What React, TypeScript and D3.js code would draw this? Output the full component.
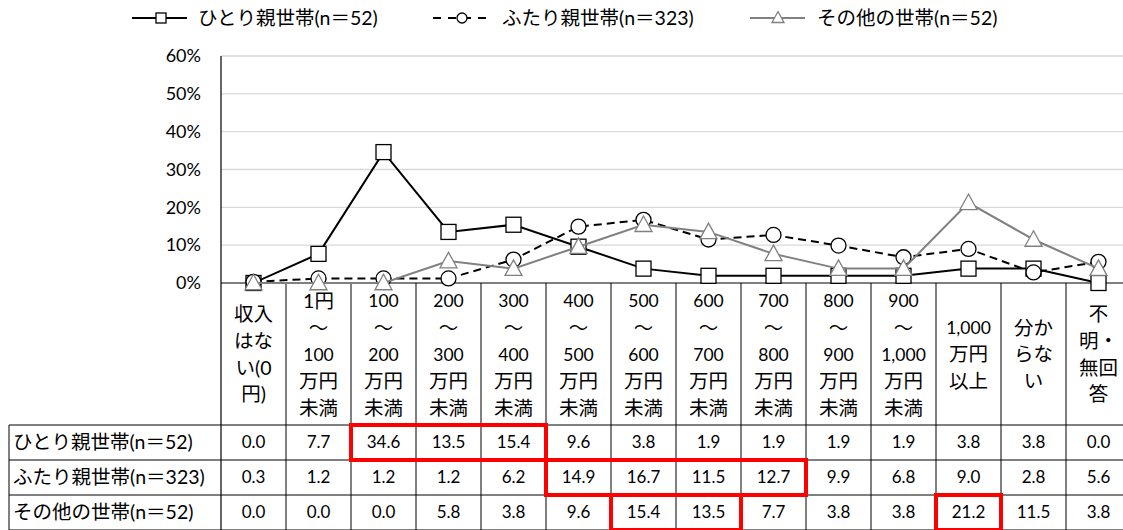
import { useMemo } from "react";
import * as d3 from "d3";

const categories: string[][] = [
  ["収入", "はな", "い(0", "円)"],
  ["1円", "～", "100", "万円", "未満"],
  ["100", "～", "200", "万円", "未満"],
  ["200", "～", "300", "万円", "未満"],
  ["300", "～", "400", "万円", "未満"],
  ["400", "～", "500", "万円", "未満"],
  ["500", "～", "600", "万円", "未満"],
  ["600", "～", "700", "万円", "未満"],
  ["700", "～", "800", "万円", "未満"],
  ["800", "～", "900", "万円", "未満"],
  ["900", "～", "1,000", "万円", "未満"],
  ["1,000", "万円", "以上"],
  ["分か", "らな", "い"],
  ["不", "明・", "無回", "答"],
];

const seriesNames = ["ひとり親世帯(n＝52)", "ふたり親世帯(n＝323)", "その他の世帯(n＝52)"];

const singleParent = [0.0, 7.7, 34.6, 13.5, 15.4, 9.6, 3.8, 1.9, 1.9, 1.9, 1.9, 3.8, 3.8, 0.0];
const twoParent = [0.3, 1.2, 1.2, 1.2, 6.2, 14.9, 16.7, 11.5, 12.7, 9.9, 6.8, 9.0, 2.8, 5.6];
const otherHousehold = [0.0, 0.0, 0.0, 5.8, 3.8, 9.6, 15.4, 13.5, 7.7, 3.8, 3.8, 21.2, 11.5, 3.8];

const yTicks = [0, 10, 20, 30, 40, 50, 60];

// highlighted cells: [row, firstCol, lastCol]
const highlights: [number, number, number][] = [
  [0, 2, 4],
  [1, 5, 8],
  [2, 6, 7],
  [2, 11, 11],
];

const FONT = "Lato, 'Noto Sans CJK JP', sans-serif";

export default function App() {
  const width = 1123;
  const height = 530;
  const plotLeft = 221;
  const plotTop = 56;
  const plotBottom = 283;
  const headerBottom = 425;
  const rowH = (height - headerBottom) / 3;
  const tableLeft = 9;

  const x = useMemo(
    () =>
      d3
        .scaleBand<number>()
        .domain(d3.range(categories.length))
        .range([plotLeft, plotLeft + 65 * categories.length]),
    []
  );
  const y = useMemo(() => d3.scaleLinear().domain([0, 60]).range([plotBottom, plotTop]), []);
  const cx = (i: number) => (x(i) ?? 0) + x.bandwidth() / 2;

  const line = d3
    .line<number>()
    .x((_, i) => cx(i))
    .y((d) => y(d));

  const series = [
    { values: singleParent, color: "#000", dash: undefined, marker: "square" },
    { values: twoParent, color: "#000", dash: "8,5", marker: "circle" },
    { values: otherHousehold, color: "#808080", dash: undefined, marker: "triangle" },
  ];

  const marker = (type: string, px: number, py: number, color: string, s: number, key: string) => {
    if (type === "square")
      return (
        <rect key={key} x={px - s / 2} y={py - s / 2} width={s} height={s} fill="#fff" stroke={color} strokeWidth={1.3} />
      );
    if (type === "circle")
      return <circle key={key} cx={px} cy={py} r={s / 2} fill="#fff" stroke={color} strokeWidth={1.3} />;
    const h = s * 0.9;
    return (
      <path
        key={key}
        d={`M${px},${py - h / 2 - 2}L${px + s / 2 + 1},${py + h / 2}L${px - s / 2 - 1},${py + h / 2}Z`}
        fill="#fff"
        stroke={color}
        strokeWidth={1.3}
      />
    );
  };

  const legendItems = [
    { x: 132, mx: 161, textX: 198 },
    { x: 433, mx: 462, textX: 502 },
    { x: 750, mx: 778, textX: 817 },
  ];

  const rows = [singleParent, twoParent, otherHousehold];
  const lineH = 26.6;
  const headerMid = (plotBottom + headerBottom) / 2 + 0.5;

  return (
    <svg
      width={width}
      height={height}
      style={{ position: "absolute", left: 0, top: 0, background: "#fff" }}
      fontFamily={FONT}
    >
      {/* legend */}
      {series.map((s, i) => (
        <g key={"lg" + i}>
          <line
            x1={legendItems[i].x}
            x2={legendItems[i].x + 55}
            y1={18}
            y2={18}
            stroke={s.color}
            strokeWidth={2}
            strokeDasharray={s.dash ? "8,7" : undefined}
          />
          {marker(s.marker, legendItems[i].mx, 18, s.color, 10, "lm" + i)}
          <text x={legendItems[i].textX} y={18} dy="0.35em" fontSize={19.5} fill="#000">
            {seriesNames[i]}
          </text>
        </g>
      ))}

      {/* grid */}
      {yTicks.map((t) => (
        <g key={"g" + t}>
          {t > 0 && <line x1={plotLeft} x2={width} y1={y(t)} y2={y(t)} stroke="#d9d9d9" strokeWidth={1.3} />}
          <text x={201} y={y(t)} dy="0.35em" textAnchor="end" fontSize={18} fill="#000">
            {t}%
          </text>
        </g>
      ))}
      <line x1={plotLeft} x2={plotLeft} y1={plotTop} y2={height} stroke="#000" strokeWidth={1.2} />

      {/* table */}
      <line x1={plotLeft} x2={width} y1={plotBottom} y2={plotBottom} stroke="#000" strokeWidth={1.2} />
      {categories.map((c, i) => (
        <g key={"c" + i}>
          <line
            x1={(x(i) ?? 0) + x.bandwidth()}
            x2={(x(i) ?? 0) + x.bandwidth()}
            y1={plotBottom}
            y2={height}
            stroke="#000"
            strokeWidth={1}
          />
          {c.map((l, j) => (
            <text
              key={j}
              x={cx(i)}
              y={headerMid + (j - (c.length - 1) / 2) * lineH}
              dy="0.35em"
              textAnchor="middle"
              fontSize={/^[0-9,]+$/.test(l) ? 17.5 : 19.5}
              fill="#000"
            >
              {l}
            </text>
          ))}
        </g>
      ))}
      {[0, 1, 2, 3].map((r) => (
        <line
          key={"rl" + r}
          x1={tableLeft}
          x2={width}
          y1={headerBottom + r * rowH}
          y2={headerBottom + r * rowH}
          stroke="#000"
          strokeWidth={1}
        />
      ))}
      <line x1={tableLeft} x2={tableLeft} y1={headerBottom} y2={height} stroke="#000" strokeWidth={1} />
      {rows.map((vals, r) => (
        <g key={"row" + r}>
          <text x={13} y={headerBottom + (r + 0.5) * rowH} dy="0.35em" fontSize={19.5} fill="#000">
            {seriesNames[r]}
          </text>
          {vals.map((v, i) => (
            <text
              key={i}
              x={cx(i)}
              y={headerBottom + (r + 0.5) * rowH}
              dy="0.35em"
              textAnchor="middle"
              fontSize={17}
              fill="#000"
            >
              {v.toFixed(1)}
            </text>
          ))}
        </g>
      ))}

      {/* series */}
      {series.map((s, si) => (
        <g key={"s" + si}>
          <path
            d={line(s.values) ?? ""}
            fill="none"
            stroke={s.color}
            strokeWidth={2}
            strokeDasharray={s.dash}
          />
          {s.values.map((v, i) => marker(s.marker, cx(i), y(v), s.color, 15, "m" + si + "-" + i))}
        </g>
      ))}

      {/* highlight boxes */}
      {highlights.map(([r, a, b], k) => (
        <rect
          key={"h" + k}
          x={x(a) ?? 0}
          y={headerBottom + r * rowH}
          width={(x(b) ?? 0) + x.bandwidth() - (x(a) ?? 0)}
          height={rowH}
          fill="none"
          stroke="#ff0000"
          strokeWidth={4}
        />
      ))}
    </svg>
  );
}
